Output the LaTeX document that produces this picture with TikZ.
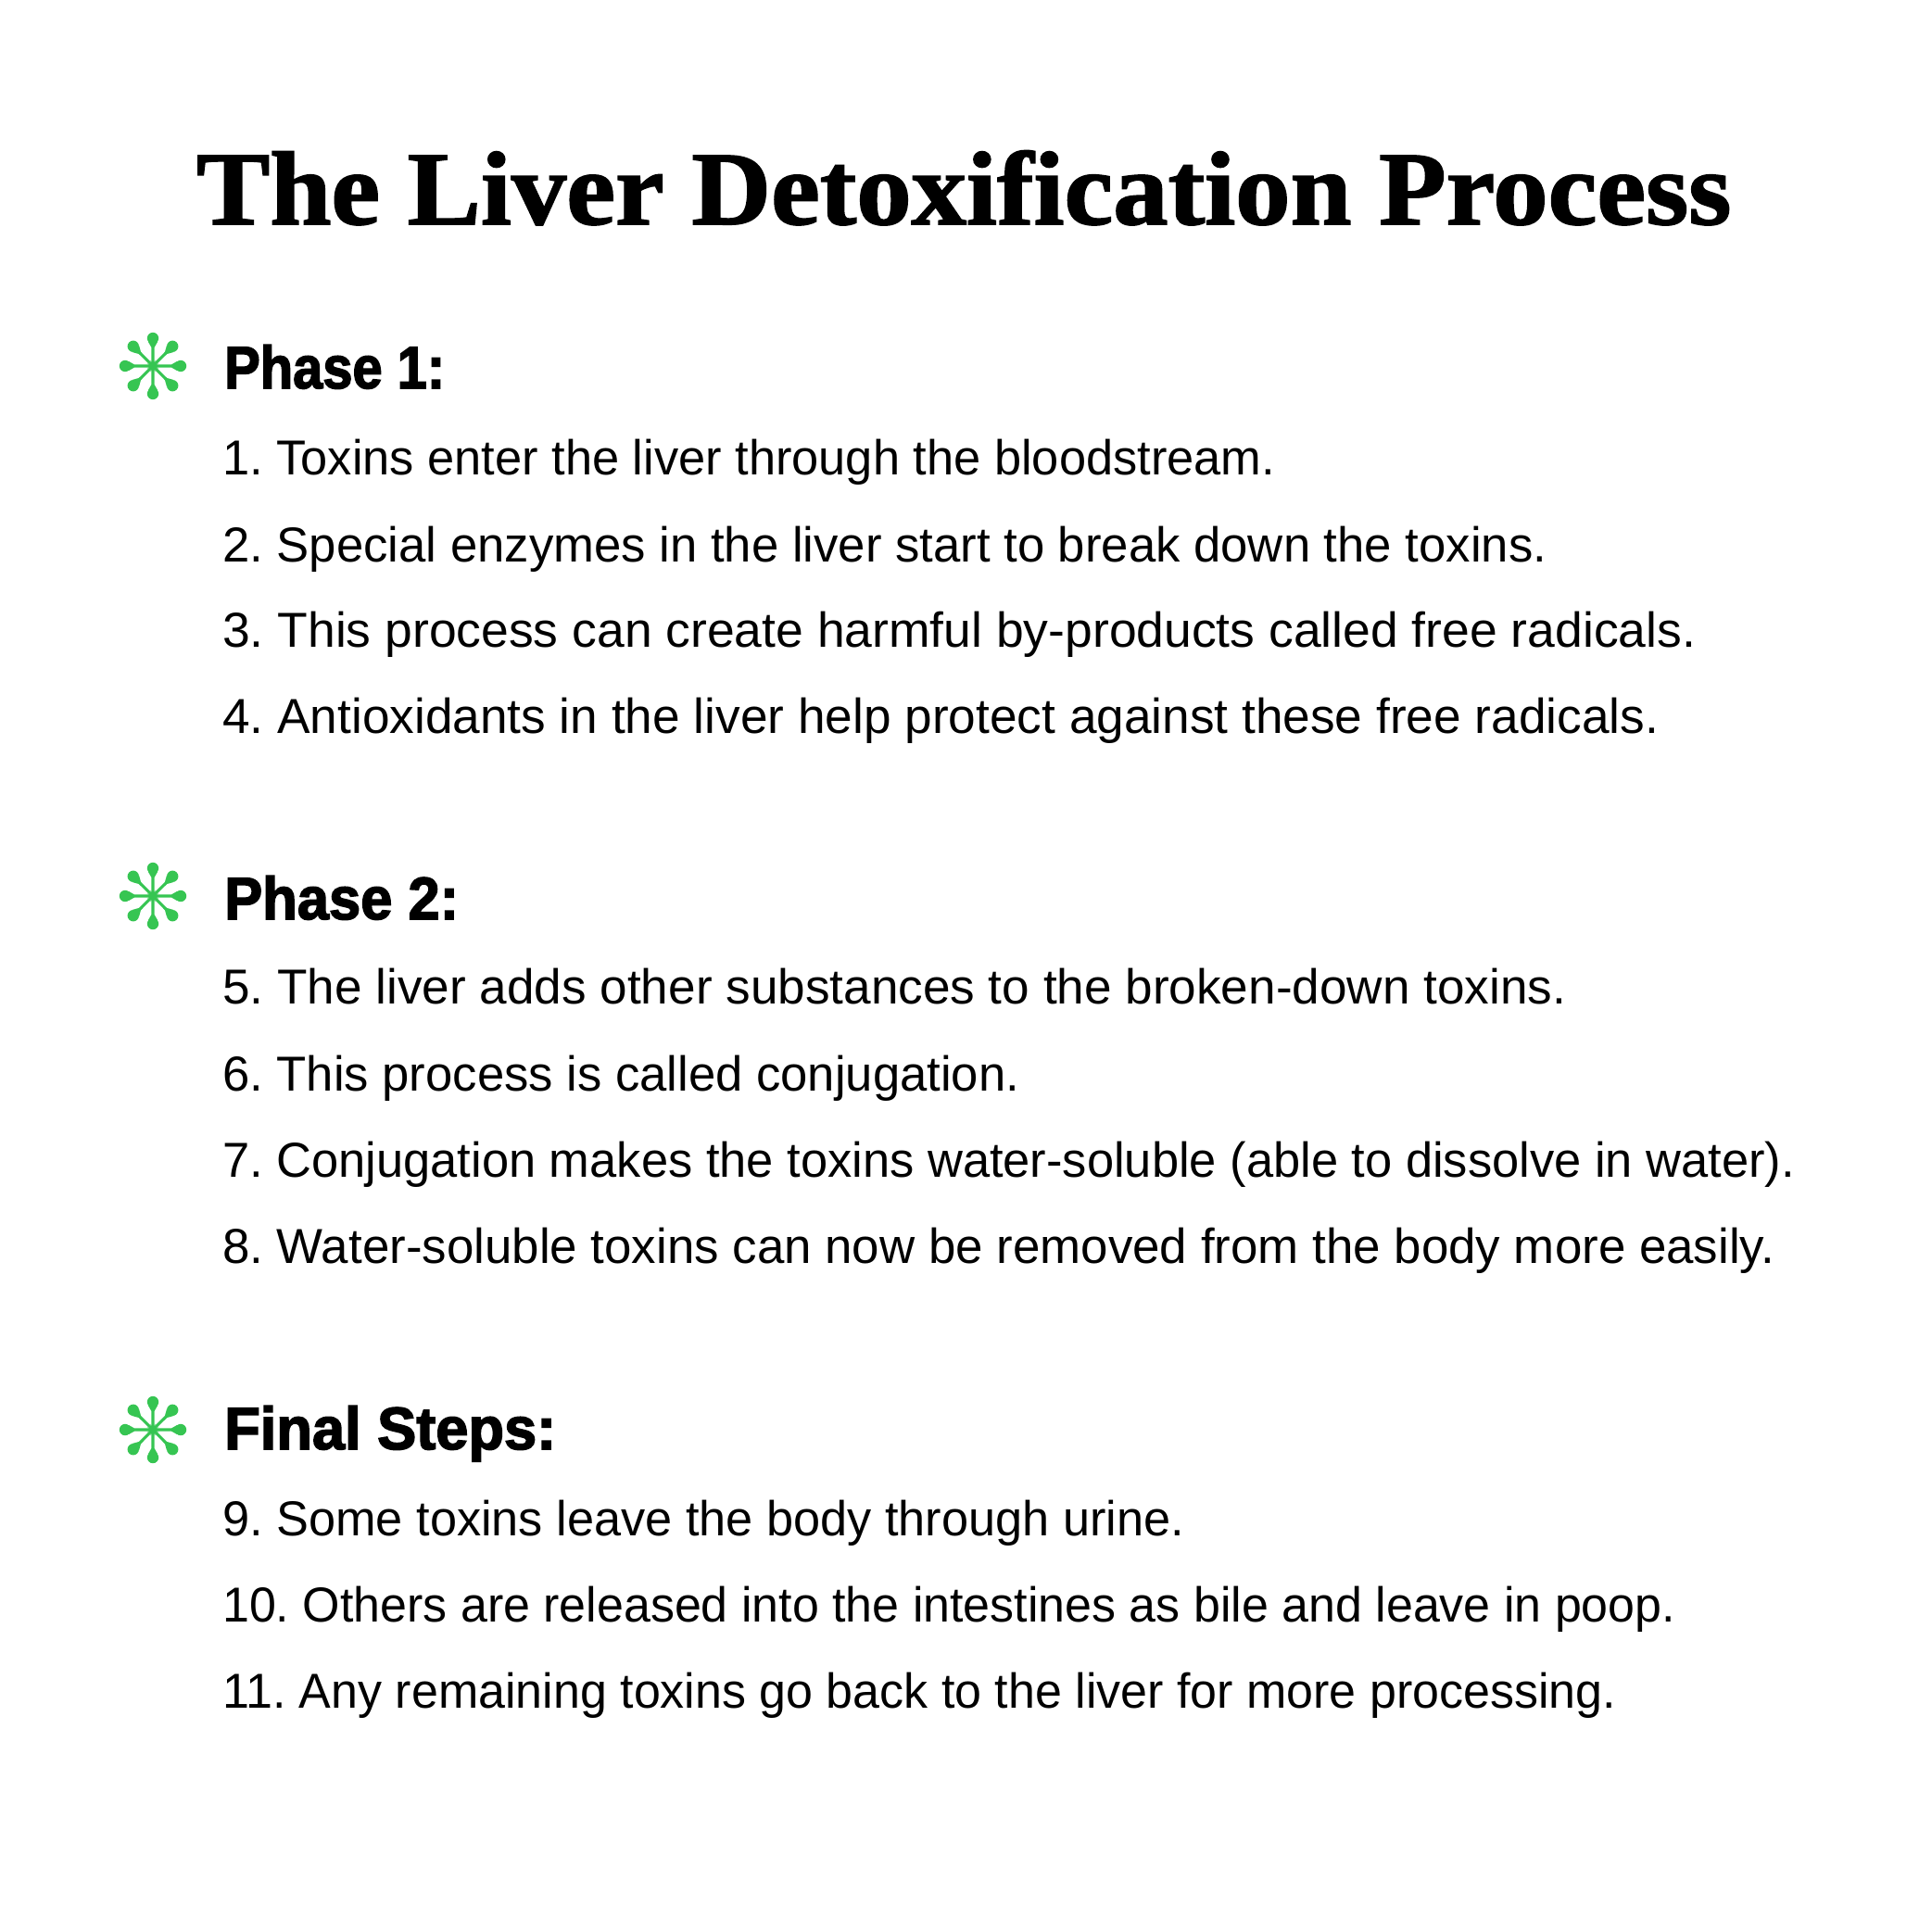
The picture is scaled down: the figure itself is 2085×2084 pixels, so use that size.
\documentclass[tikz,border=0pt]{standalone}
\usepackage{fontspec}
\usepackage{graphicx}
\setmainfont{Liberation Sans}
\newfontfamily\titlefam[BoldFeatures={FakeBold=1.5}]{Liberation Serif}
\newfontfamily\headfam[BoldFeatures={FakeBold=2.5}]{Liberation Sans}
\definecolor{leafgreen}{RGB}{54,197,82}
\frenchspacing
\newcommand\fitw[2]{\resizebox{#1pt}{\height}{#2}}
\tikzset{
  titletext/.style={anchor=base west, inner sep=0pt, font=\titlefam\bfseries\fontsize{113}{120}\selectfont},
  headtext/.style={anchor=base west, inner sep=0pt, font=\headfam\bfseries\fontsize{64.5}{70}\selectfont},
  bodytext/.style={anchor=base west, inner sep=0pt, font=\fontsize{53}{60}\selectfont},
  icon/.pic={
    \foreach \a in {0,45,...,315}{
      \fill[leafgreen, rotate=\a] (0,-1.5) -- (20,-1.6) -- (26,-5) -- (26,5) -- (20,1.6) -- (0,1.5) -- cycle;
      \fill[leafgreen, rotate=\a] (30,0) circle (6.2pt);
    }
    \fill[leafgreen] (0,0) circle (3.8pt);
    \foreach \a in {22.5,67.5,...,337.5}{
      \fill[leafgreen, rotate=\a] (0,-1.2) -- (7,0) -- (0,1.2) -- cycle;
    }
  }
}
\begin{document}
\begin{tikzpicture}[x=1pt,y=-1pt]
\fill[white] (0,0) rectangle (2085,2084);
\useasboundingbox (0,0) rectangle (2085,2084);

\node[titletext] (title) at (212,242) {\fitw{1656}{The Liver Detoxification Process}};

% Phase 1
\pic (ic1) at (165,395) {icon};
\node[headtext] (h1) at (242,419) {\fitw{238}{Phase 1:}};
\node[bodytext] (l1) at (240,512) {\fitw{1136}{1. Toxins enter the liver through the bloodstream.}};
\node[bodytext] (l2) at (240,606) {\fitw{1429}{2. Special enzymes in the liver start to break down the toxins.}};
\node[bodytext] (l3) at (240,698) {\fitw{1590}{3. This process can create harmful by-products called free radicals.}};
\node[bodytext] (l4) at (240,791) {\fitw{1550}{4. Antioxidants in the liver help protect against these free radicals.}};

% Phase 2
\pic (ic2) at (165,967) {icon};
\node[headtext] (h2) at (242,992) {\fitw{253}{Phase 2:}};
\node[bodytext] (l5) at (240,1083) {\fitw{1450}{5. The liver adds other substances to the broken-down toxins.}};
\node[bodytext] (l6) at (240,1177) {\fitw{860}{6. This process is called conjugation.}};
\node[bodytext] (l7) at (240,1270) {\fitw{1697}{7. Conjugation makes the toxins water-soluble (able to dissolve in water).}};
\node[bodytext] (l8) at (240,1363) {\fitw{1675}{8. Water-soluble toxins can now be removed from the body more easily.}};

% Final steps
\pic (ic3) at (165,1543) {icon};
\node[headtext] (h3) at (242,1564) {\fitw{358}{Final Steps:}};
\node[bodytext] (l9) at (240,1657) {\fitw{1038}{9. Some toxins leave the body through urine.}};
\node[bodytext] (l10) at (240,1750) {\fitw{1568}{10. Others are released into the intestines as bile and leave in poop.}};
\node[bodytext] (l11) at (240,1843) {\fitw{1504}{11. Any remaining toxins go back to the liver for more processing.}};
\end{tikzpicture}
\end{document}
